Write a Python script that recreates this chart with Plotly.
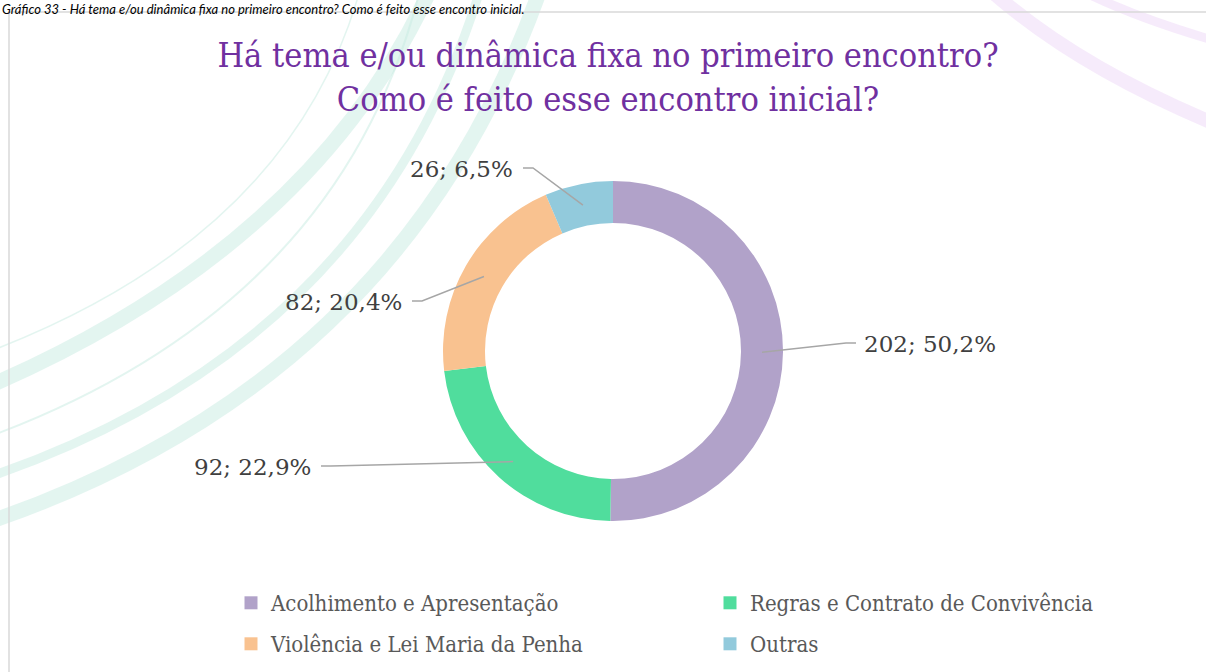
import math
import plotly.graph_objects as go

# ---- data ----
categories = [
    "Acolhimento e Apresentação",
    "Regras e Contrato de Convivência",
    "Violência e Lei Maria da Penha",
    "Outras",
]
counts = [202, 92, 82, 26]
colors = ["#B1A2C9", "#50DD9D", "#F9C290", "#92CADC"]

title_lines = [
    "Há tema e/ou dinâmica fixa no primeiro encontro?",
    "Como é feito esse encontro inicial?",
]
caption = ("Gráfico 33 - Há tema e/ou dinâmica fixa no primeiro encontro? "
           "Como é feito esse encontro inicial.")

# ---- page geometry (pixels) ----
W, H = 1206, 672
CX, CY = 613, 351          # donut centre
R_OUT, R_IN = 170, 128     # outer / inner radius
# where each slice's label text sits (left/right anchor point, px)
label_pos = [(862, 344, "left"), (313, 467, "right"),
             (404, 302, "right"), (515, 169, "right")]
# legend rows: which categories go in which row, and the row's top edge
legend_rows = [("legend", 582), ("legend2", 623)]
row_of = [0, 0, 1, 1]

SERIF_C = "DejaVu Serif Condensed, DejaVu Serif"


def px(x):
    return x / W


def py(y):
    return 1 - y / H


total = sum(counts)
label_text = []
for v in counts:
    pct = f"{100 * v / total:.1f}".replace(".", ",")
    label_text.append(f"{v}; {pct}%")

fig = go.Figure()
fig.add_trace(go.Pie(
    labels=categories,
    values=counts,
    marker=dict(colors=colors, line=dict(width=0)),
    hole=R_IN / R_OUT,
    sort=False,
    direction="clockwise",
    rotation=0,
    textinfo="none",
    hoverinfo="label+value+percent",
    showlegend=False,
    domain=dict(x=[px(CX - R_OUT), px(CX + R_OUT)],
                y=[py(CY + R_OUT), py(CY - R_OUT)]),
))

# legend entries (one per category, split across two rows)
for cat, col, r in zip(categories, colors, row_of):
    fig.add_trace(go.Scatter(
        x=[None], y=[None], mode="markers", name=cat,
        marker=dict(symbol="square", size=13, color=col),
        legend=legend_rows[r][0], hoverinfo="skip",
    ))

shapes = []

# decorative background swooshes
teal = "rgba(200,236,226,0.5)"
lilac = "rgba(240,222,248,0.6)"


def curve(p0, c, p1, color, width):
    d = (f"M {px(p0[0])},{py(p0[1])} Q {px(c[0])},{py(c[1])} "
         f"{px(p1[0])},{py(p1[1])}")
    shapes.append(dict(type="path", path=d, xref="paper", yref="paper",
                       line=dict(color=color, width=width), layer="below"))


curve((-20, 390), (310, 250), (430, -10), teal, 15)
curve((-20, 440), (340, 310), (420, -10), teal, 2)
curve((-20, 480), (370, 350), (480, -10), teal, 9)
curve((-20, 525), (400, 385), (540, -10), teal, 15)
curve((-20, 355), (290, 240), (360, -10), teal, 1.5)
curve((990, -10), (1080, 70), (1230, 130), lilac, 14)
curve((1080, -10), (1140, 20), (1230, 45), lilac, 9)

# chart frame
shapes.append(dict(type="rect", xref="paper", yref="paper",
                   x0=px(9), x1=px(W + 5), y0=py(H + 5), y1=py(12),
                   line=dict(color="#D9D9D9", width=1.5), layer="below"))

annotations = []
# leader lines from the ring middle of each slice to its label
r_mid = (R_OUT + R_IN) / 2
cum = 0
for v, (lx, ly, side) in zip(counts, label_pos):
    mid = (cum + v / 2) / total * 2 * math.pi
    cum += v
    sx = CX + r_mid * math.sin(mid)
    sy = CY - r_mid * math.cos(mid)
    if side == "left":
        ex, elbow = lx - 6, lx - 6 - 10
    else:
        ex, elbow = lx + 8, lx + 8 + 10
    d = (f"M {px(sx)},{py(sy)} L {px(elbow)},{py(ly - 1)} "
         f"L {px(ex)},{py(ly - 1)}")
    shapes.append(dict(type="path", path=d, xref="paper", yref="paper",
                       line=dict(color="#A6A6A6", width=1.5)))

for txt, (lx, ly, side) in zip(label_text, label_pos):
    annotations.append(dict(
        text=txt, x=px(lx), y=py(ly), xref="paper", yref="paper",
        xanchor=side, yanchor="middle", showarrow=False,
        font=dict(family="DejaVu Serif", size=23, color="#404040"),
    ))

# figure caption above the frame
annotations.append(dict(
    text=f"<i>{caption}</i>", x=px(0), y=py(-1), xref="paper", yref="paper",
    xanchor="left", yanchor="top", showarrow=False,
    font=dict(family="Lato", size=13, color="#000000"),
))

legend_common = dict(
    orientation="h", xanchor="left", yanchor="top",
    x=px(231), entrywidth=434, entrywidthmode="pixels",
    font=dict(family=SERIF_C, size=22, color="#595959"),
    bgcolor="rgba(0,0,0,0)",
)

fig.update_layout(
    width=W, height=H,
    margin=dict(l=0, r=0, t=0, b=0),
    paper_bgcolor="white",
    plot_bgcolor="rgba(0,0,0,0)",
    xaxis=dict(visible=False),
    yaxis=dict(visible=False),
    title=dict(
        text="<br>".join(title_lines),
        x=px(608), xanchor="center", y=py(67), yanchor="middle",
        font=dict(family=SERIF_C, size=34, color="#7030A0"),
    ),
    legend=dict(y=py(legend_rows[0][1]), **legend_common),
    legend2=dict(y=py(legend_rows[1][1]), **legend_common),
    shapes=shapes,
    annotations=annotations,
)

fig.write_html("out.html")
